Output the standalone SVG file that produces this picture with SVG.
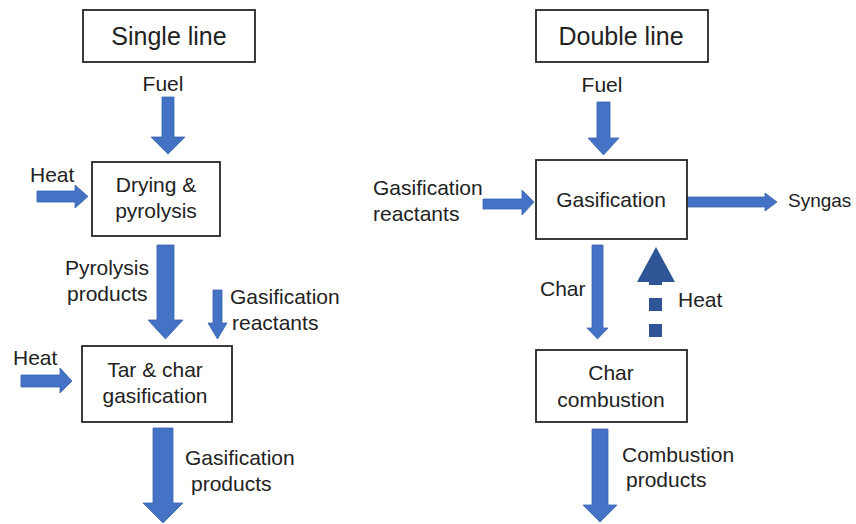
<svg xmlns="http://www.w3.org/2000/svg" width="856" height="524" viewBox="0 0 856 524">
<style>
text{font-family:"Liberation Sans",Arial,sans-serif;font-size:21px;fill:#222}
.h{font-size:25px}
.c{text-anchor:middle}
.s{font-size:19px}
.box{fill:#fff;stroke:#262626;stroke-width:1.8}
.arr{fill:#4472C4;stroke:#3A63AE;stroke-width:0.8}
.dark{fill:#2F5597;stroke:none}
</style>
<rect width="856" height="524" fill="#fff"/>
<g id="connectors">
<polygon class="arr" points="162,97 174,97 174,137 185,137 168,154 151,137 162,137"/>
<polygon class="arr" points="37,191 75,191 75,185 88,196.5 75,208 75,202 37,202"/>
<polygon class="arr" points="157,245 174,245 174,320 183,320 165.5,339 148,320 157,320"/>
<polygon class="arr" points="213,290 222,290 222,323 227,323 217.5,339 208,323 213,323"/>
<polygon class="arr" points="21,375 60,375 60,368 72,381 60,393 60,387 21,387"/>
<polygon class="arr" points="153,428 173,428 173,503 183,503 163,523 143,503 153,503"/>
<polygon class="arr" points="597,102 610,102 610,138 619,138 603.5,155 588,138 597,138"/>
<polygon class="arr" points="483,199 522,199 522,190 534,202 522,215 522,209 483,209"/>
<polygon class="arr" points="687,197 765,197 765,193 777,202 765,211 765,207 687,207"/>
<polygon class="arr" points="592,245 603,245 603,328 608,328 597.5,339 587,328 592,328"/>
<polygon class="arr" points="592,429 608,429 608,505 617,505 600,522 583,505 592,505"/>
<g id="heat-dashed">
<polygon class="dark" points="656,247 675,282 662,282 662,285 649,285 649,282 637,282"/>
<rect class="dark" x="649" y="298" width="13" height="13"/>
<rect class="dark" x="649" y="324" width="13" height="13"/>
</g>
</g>
<g id="single-line">
<rect class="box" x="83" y="10" width="172" height="52"/>
<text class="h c" x="169" y="45">Single line</text>
</g>
<g id="double-line">
<rect class="box" x="536" y="10" width="172" height="52"/>
<text class="h c" x="621" y="45">Double line</text>
</g>
<g id="drying">
<rect class="box" x="92" y="162" width="128" height="74"/>
<text class="c" x="156" y="192">Drying &amp;</text>
<text class="c" x="156" y="218">pyrolysis</text>
</g>
<g id="tar-char">
<rect class="box" x="82" y="346" width="150" height="76"/>
<text class="c" x="155" y="377">Tar &amp; char</text>
<text class="c" x="155" y="403">gasification</text>
</g>
<g id="gasification">
<rect class="box" x="536" y="160" width="151" height="79"/>
<text class="c" x="611" y="207">Gasification</text>
</g>
<g id="char-combustion">
<rect class="box" x="536" y="350" width="151" height="72"/>
<text class="c" x="611" y="380">Char</text>
<text class="c" x="611" y="407">combustion</text>
</g>
<g id="labels">
<text class="c" x="163" y="91">Fuel</text>
<text class="c" x="602" y="92">Fuel</text>
<text x="30" y="182">Heat</text>
<text x="65" y="275">Pyrolysis</text>
<text x="67" y="301">products</text>
<text x="230" y="304">Gasification</text>
<text x="232" y="330">reactants</text>
<text x="13" y="365">Heat</text>
<text x="185" y="465">Gasification</text>
<text x="191" y="491">products</text>
<text x="373" y="195">Gasification</text>
<text x="373" y="221">reactants</text>
<text class="s" x="788" y="207">Syngas</text>
<text x="540" y="296">Char</text>
<text x="678" y="307">Heat</text>
<text x="622" y="462">Combustion</text>
<text x="626" y="487">products</text>
</g>
</svg>
